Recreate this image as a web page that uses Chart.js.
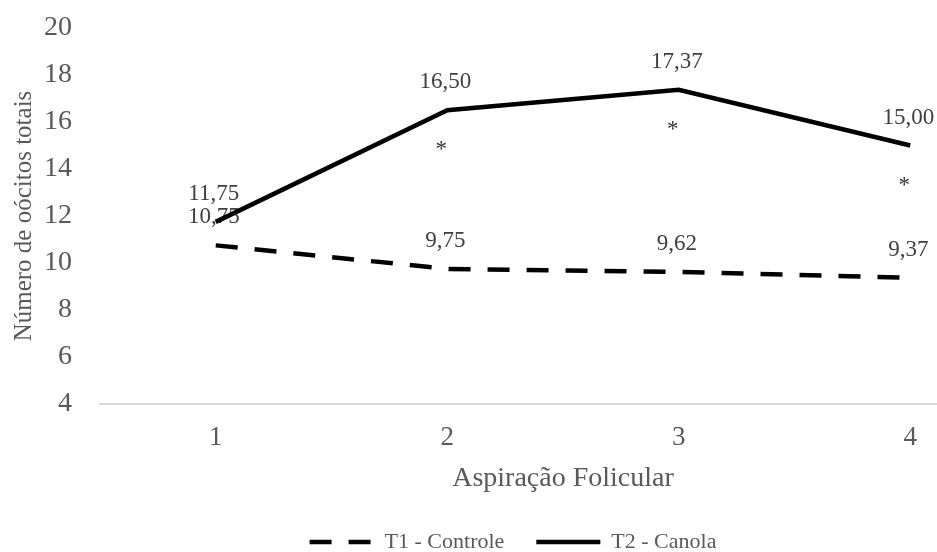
<!DOCTYPE html>
<html><head><meta charset="utf-8">
<script src="https://cdn.jsdelivr.net/npm/chart.js@4"></script>
<style>html,body{margin:0;padding:0;background:#fff;overflow:hidden}#wrap{width:937px;height:552px;overflow:hidden}</style>
</head><body><div id="wrap"><canvas id="c" width="1030" height="552"></canvas></div>
<script>
const categories = [1, 2, 3, 4];
const seriesNames = ['T1 - Controle', 'T2 - Canola'];
const t1Values = [10.75, 9.75, 9.62, 9.37];
const t2Values = [11.75, 16.50, 17.37, 15.00];
const t2Marks = ['', '*', '*', '*'];
const yTicks = [4, 6, 8, 10, 12, 14, 16, 18, 20];
const xTitle = 'Aspiração Folicular';
const yTitle = 'Número de oócitos totais';

const SERIF = '"Liberation Serif", "Times New Roman", serif';
Chart.defaults.font.family = SERIF;
Chart.defaults.color = '#595959';

const fmt = v => v.toFixed(2).replace('.', ',');

const labelPlugin = {
  id: 'valueLabels',
  beforeDatasetsDraw(chart) {
    const ctx = chart.ctx;
    ctx.save();
    ctx.font = '23px ' + SERIF;
    ctx.fillStyle = '#404040';
    ctx.textAlign = 'center';
    ctx.textBaseline = 'middle';
    chart.data.datasets.forEach((ds, i) => {
      const meta = chart.getDatasetMeta(i);
      meta.data.forEach((pt, j) => {
        ctx.fillText(fmt(ds.data[j].y), pt.x - 2, pt.y - 28);
      });
    });
    const meta2 = chart.getDatasetMeta(1);
    ctx.font = '23px ' + SERIF;
    ctx.fillStyle = '#333333';
    meta2.data.forEach((pt, j) => {
      if (t2Marks[j]) ctx.fillText(t2Marks[j], pt.x - 6, pt.y + 40);
    });
    ctx.restore();
  }
};

function build() {
  new Chart(document.getElementById('c'), {
    type: 'line',
    data: {
      datasets: [
        {
          label: seriesNames[0],
          data: categories.map((c, i) => ({x: c, y: t1Values[i]})),
          borderColor: '#000000',
          backgroundColor: '#000000',
          borderWidth: 4.5,
          borderDash: [22, 17],
          pointRadius: 0,
          tension: 0,
          fill: false
        },
        {
          label: seriesNames[1],
          data: categories.map((c, i) => ({x: c, y: t2Values[i]})),
          borderColor: '#000000',
          backgroundColor: '#000000',
          borderWidth: 4.5,
          pointRadius: 0,
          tension: 0,
          fill: false
        }
      ]
    },
    options: {
      responsive: false,
      animation: false,
      devicePixelRatio: 1,
      layout: {padding: {top: 28, right: 4, left: 0, bottom: -11}},
      plugins: {
        tooltip: {enabled: false},
        legend: {
          position: 'bottom',
          labels: {
            usePointStyle: true,
            pointStyle: 'line',
            pointStyleWidth: 64,
            font: {size: 22, family: SERIF},
            color: '#595959',
            padding: 32,
            generateLabels: chart => chart.data.datasets.map((ds, i) => ({
              text: ds.label,
              fillStyle: ds.borderColor,
              strokeStyle: ds.borderColor,
              lineWidth: ds.borderWidth,
              lineDash: ds.borderDash || [],
              lineCap: 'butt',
              pointStyle: 'line',
              hidden: false,
              datasetIndex: i,
              fontColor: '#595959'
            }))
          }
        }
      },
      scales: {
        x: {
          type: 'linear',
          min: 0.5,
          max: 4.5,
          grid: {display: false, drawTicks: false},
          border: {display: true, color: '#d9d9d9', width: 2},
          afterBuildTicks: s => { s.ticks = categories.map(v => ({value: v})); },
          afterFit: s => { s.height = 95; },
          ticks: {
            font: {size: 27, family: SERIF},
            color: '#595959',
            padding: 18,
            callback: v => String(v)
          },
          title: {
            display: true,
            text: xTitle,
            font: {size: 28, family: SERIF},
            color: '#595959',
            padding: {top: 0, bottom: 4}
          }
        },
        y: {
          type: 'linear',
          min: 4,
          max: 20,
          grid: {
            display: true,
            drawOnChartArea: false,
            drawTicks: true,
            tickLength: 28,
            color: 'rgba(0,0,0,0)'
          },
          border: {display: false},
          afterBuildTicks: s => { s.ticks = yTicks.map(v => ({value: v})); },
          afterFit: s => { s.width = 100; },
          ticks: {
            font: {size: 28, family: SERIF},
            color: '#595959',
            padding: 0
          },
          title: {
            display: true,
            text: yTitle,
            font: {size: 25, family: SERIF},
            color: '#595959',
            padding: {top: 9, bottom: 0}
          }
        }
      }
    },
    plugins: [labelPlugin]
  });
}

Promise.all([
  document.fonts.load('28px "Liberation Serif"'),
  document.fonts.load('22px "Liberation Serif"')
]).then(build, build);
</script>
</body></html>
